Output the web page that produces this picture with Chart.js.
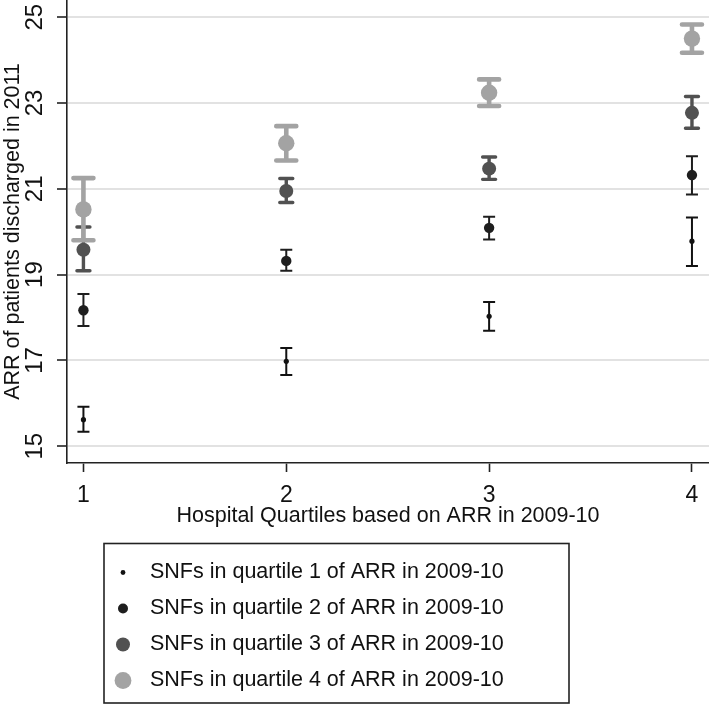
<!DOCTYPE html>
<html>
<head>
<meta charset="utf-8">
<script src="https://cdn.jsdelivr.net/npm/chart.js@4/dist/chart.umd.min.js"></script>
<style>
  html, body { margin: 0; padding: 0; background: #fff; }
  #wrap { width: 709px; height: 706px; }
</style>
</head>
<body>
<div id="wrap"><canvas id="c" width="709" height="706"></canvas></div>
<script>
// ---- data ----
const categories = [1, 2, 3, 4];
const xTickLabels = ['1', '2', '3', '4'];
const yTickValues = [15, 17, 19, 21, 23, 25];
const seriesLabels = [
  'SNFs in quartile 1 of ARR in 2009-10',
  'SNFs in quartile 2 of ARR in 2009-10',
  'SNFs in quartile 3 of ARR in 2009-10',
  'SNFs in quartile 4 of ARR in 2009-10'
];
const q1Mean = [15.62, 16.98, 18.03, 19.78];
const q1Low  = [15.34, 16.66, 17.69, 19.20];
const q1High = [15.92, 17.29, 18.36, 20.33];
const q2Mean = [18.17, 19.32, 20.09, 21.32];
const q2Low  = [17.80, 19.09, 19.82, 20.87];
const q2High = [18.55, 19.58, 20.35, 21.76];
const q3Mean = [19.58, 20.95, 21.47, 22.77];
const q3Low  = [19.09, 20.68, 21.22, 22.41];
const q3High = [20.11, 21.24, 21.74, 23.15];
const q4Mean = [20.52, 22.06, 23.24, 24.50];
const q4Low  = [19.80, 21.66, 22.93, 24.17];
const q4High = [21.25, 22.46, 23.55, 24.83];

// ---- styles ----
const FONT = '"Liberation Sans", Arial, sans-serif';
const TEXT = '#111111';
const styles = [
  { color: '#121212', r: 2.6, lw: 2,   cap: 6,  capStyle: 'butt',  order: 3 },
  { color: '#1e1e1e', r: 5.2, lw: 2,   cap: 6,  capStyle: 'butt',  order: 2 },
  { color: '#515151', r: 7,   lw: 3.4, cap: 6.5, capStyle: 'round', order: 1 },
  { color: '#a3a3a3', r: 8.2, lw: 4.6, cap: 10, capStyle: 'round', order: 0 }
];
const means = [q1Mean, q2Mean, q3Mean, q4Mean];
const lows = [q1Low, q2Low, q3Low, q4Low];
const highs = [q1High, q2High, q3High, q4High];

const datasets = means.map((m, k) => ({
  label: seriesLabels[k],
  data: categories.map((c, i) => ({ x: c, y: m[i] })),
  errLow: lows[k],
  errHigh: highs[k],
  backgroundColor: styles[k].color,
  borderColor: styles[k].color,
  borderWidth: 0,
  pointRadius: styles[k].r,
  pointHoverRadius: styles[k].r,
  order: styles[k].order,
  clip: false,
  sty: styles[k]
}));

const errorBars = {
  id: 'errorBars',
  beforeDatasetDraw(chart, args) {
    const ds = chart.data.datasets[args.index];
    const s = ds.sty;
    const xs = chart.scales.x, ys = chart.scales.y;
    const ctx = chart.ctx;
    ctx.save();
    ctx.strokeStyle = s.color;
    ctx.lineWidth = s.lw;
    ctx.lineCap = s.capStyle;
    ds.data.forEach((pt, i) => {
      const px = xs.getPixelForValue(pt.x);
      const yl = ys.getPixelForValue(ds.errLow[i]);
      const yh = ys.getPixelForValue(ds.errHigh[i]);
      ctx.beginPath();
      ctx.moveTo(px, yl); ctx.lineTo(px, yh);
      ctx.moveTo(px - s.cap, yl); ctx.lineTo(px + s.cap, yl);
      ctx.moveTo(px - s.cap, yh); ctx.lineTo(px + s.cap, yh);
      ctx.stroke();
    });
    ctx.restore();
  }
};

const boxLegend = {
  id: 'boxLegend',
  afterDraw(chart) {
    const ctx = chart.ctx;
    const box = { x: 104, y: 543.5, w: 465, h: 159.5 };
    ctx.save();
    ctx.strokeStyle = '#222';
    ctx.lineWidth = 1.6;
    ctx.strokeRect(box.x, box.y, box.w, box.h);
    ctx.font = '21.5px ' + FONT;
    ctx.textBaseline = 'middle';
    ctx.textAlign = 'left';
    chart.data.datasets.forEach((ds, k) => {
      const cy = box.y + 29 + k * 36;
      ctx.fillStyle = ds.sty.color;
      ctx.beginPath();
      ctx.arc(box.x + 19, cy, [2.4, 5, 7, 8.4][k], 0, Math.PI * 2);
      ctx.fill();
      ctx.fillStyle = TEXT;
      ctx.fillText(ds.label, box.x + 46, cy);
    });
    ctx.restore();
  }
};

new Chart(document.getElementById('c'), {
  type: 'scatter',
  data: { datasets },
  plugins: [errorBars, boxLegend],
  options: {
    responsive: false,
    animation: false,
    events: [],
    layout: { autoPadding: false, padding: { top: 0, right: 0, left: 0, bottom: 168 } },
    plugins: { legend: { display: false }, tooltip: { enabled: false } },
    scales: {
      x: {
        type: 'linear',
        min: 0.919,
        max: 4.084,
        afterBuildTicks: s => { s.ticks = categories.map(v => ({ value: v })); },
        afterFit: s => { s.height = 75; s.paddingLeft = 0; s.paddingRight = 0; },
        ticks: {
          callback: (v) => xTickLabels[categories.indexOf(v)] ?? '',
          font: { family: FONT, size: 23 },
          color: TEXT,
          padding: 10,
          maxRotation: 0, minRotation: 0
        },
        grid: { drawOnChartArea: false, drawTicks: true, tickLength: 9, tickColor: '#222', tickWidth: 1.6 },
        border: { display: true, color: '#222', width: 1.6 },
        title: {
          display: true,
          text: 'Hospital Quartiles based on ARR in 2009-10',
          font: { family: FONT, size: 21.5 },
          color: TEXT,
          padding: { top: 0, bottom: 9.5 }
        }
      },
      y: {
        type: 'linear',
        min: 14.61,
        max: 25.40,
        afterBuildTicks: s => { s.ticks = yTickValues.map(v => ({ value: v })); },
        afterFit: s => { s.width = 67; s.paddingTop = 0; s.paddingBottom = 0; },
        ticks: {
          callback: v => String(v),
          font: { family: FONT, size: 24 },
          color: TEXT,
          minRotation: 90, maxRotation: 90,
          crossAlign: 'center',
          padding: 8
        },
        grid: { color: '#e2e2e2', lineWidth: 2, drawTicks: true, tickLength: 10, tickColor: '#222', tickWidth: 1.6 },
        border: { display: true, color: '#222', width: 1.6 },
        title: {
          display: true,
          text: 'ARR of patients discharged in 2011',
          font: { family: FONT, size: 21.5 },
          color: TEXT,
          padding: { top: 0, bottom: 0 }
        }
      }
    }
  }
});
</script>
</body>
</html>
